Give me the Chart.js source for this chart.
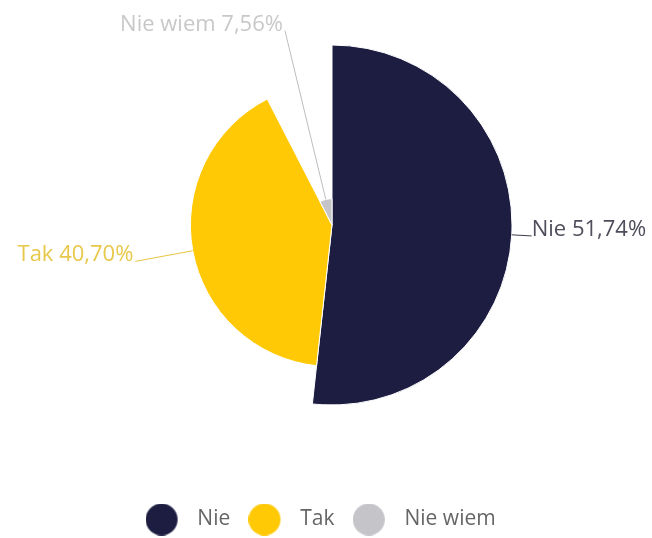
<!DOCTYPE html>
<html>
<head>
<meta charset="utf-8">
<script src="https://cdn.jsdelivr.net/npm/chart.js@4/dist/chart.umd.min.js"></script>
<style>
  html, body { margin: 0; padding: 0; background: #ffffff; }
  #wrap { width: 652px; height: 538px; }
</style>
</head>
<body>
<div id="wrap"><canvas id="chart" width="652" height="538"></canvas></div>
<script>
// Answers and their shares (percent)
const categories = ['Nie', 'Tak', 'Nie wiem'];
const shares = [51.74, 40.70, 7.56];

// Slice, label and leader-line colours per answer
const sliceColors = ['#1d1d42', '#ffc905', '#c4c4c9'];
const labelColors = ['#4e4e5c', '#e8c84a', '#c8c8c8'];
const lineColors = ['#3c3c4c', '#e8c440', '#bdbdbd'];

const formatShare = v => v.toFixed(2).replace('.', ',') + '%';

// Round legend markers; the circle sits left of the image centre
function legendDot(color) {
  const r = 16, shift = 16.25;
  const c = document.createElement('canvas');
  c.width = 2 * (r + shift);
  c.height = 2 * r;
  const g = c.getContext('2d');
  g.fillStyle = color;
  g.beginPath();
  g.arc(r, r, r, 0, Math.PI * 2);
  g.fill();
  return c;
}
const legendDots = sliceColors.map(legendDot);

// Outside labels with leader lines from each slice edge
const sliceLabels = {
  id: 'sliceLabels',
  afterDatasetsDraw(chart) {
    const meta = chart.getDatasetMeta(0);
    const R = chart.scales.r.drawingArea;
    const ctx = chart.ctx;
    ctx.save();
    ctx.font = '22px "Open Sans"';
    ctx.lineWidth = 1;
    meta.data.forEach((arc, i) => {
      const p = arc.getProps(['x', 'y', 'startAngle', 'endAngle', 'outerRadius'], true);
      const mid = (p.startAngle + p.endAngle) / 2;
      const cos = Math.cos(mid), sin = Math.sin(mid);
      const ax = p.x + cos * p.outerRadius, ay = p.y + sin * p.outerRadius;
      const bx = p.x + cos * (R + 20), by = p.y + sin * (R + 20);
      ctx.strokeStyle = lineColors[i];
      ctx.beginPath();
      ctx.moveTo(ax, ay);
      ctx.lineTo(bx, by);
      ctx.stroke();
      const right = cos >= 0;
      ctx.textAlign = right ? 'left' : 'right';
      ctx.textBaseline = 'alphabetic';
      ctx.fillStyle = labelColors[i];
      ctx.fillText(categories[i] + ' ' + formatShare(shares[i]), bx + (right ? 0 : -2), by);
    });
    ctx.restore();
  }
};

new Chart(document.getElementById('chart'), {
  type: 'polarArea',
  data: {
    labels: categories,
    datasets: [{
      data: shares,
      // each slice spans its share of the full turn; its radius follows the same share
      angle: shares.map(v => v * 3.6),
      backgroundColor: sliceColors,
      borderColor: '#ffffff',
      borderWidth: 1
    }]
  },
  options: {
    responsive: false,
    animation: false,
    devicePixelRatio: 1,
    layout: { padding: { top: 45, left: 12, right: 0, bottom: -2 } },
    scales: {
      r: { display: false, min: 0, max: Math.max(...shares) }
    },
    plugins: {
      tooltip: { enabled: false },
      legend: {
        position: 'bottom',
        title: { display: true, text: '', font: { size: 10 }, padding: { top: 50, bottom: 0 } },
        labels: {
          usePointStyle: true,
          pointStyleWidth: 18.5,
          padding: 41,
          color: '#666666',
          font: { family: 'Open Sans', size: 21 },
          generateLabels: () => categories.map((t, i) => ({
            text: t,
            pointStyle: legendDots[i],
            fillStyle: sliceColors[i],
            strokeStyle: 'transparent',
            lineWidth: 0,
            hidden: false,
            index: i,
            fontColor: '#666666'
          }))
        }
      }
    }
  },
  plugins: [sliceLabels]
});
</script>
</body>
</html>
